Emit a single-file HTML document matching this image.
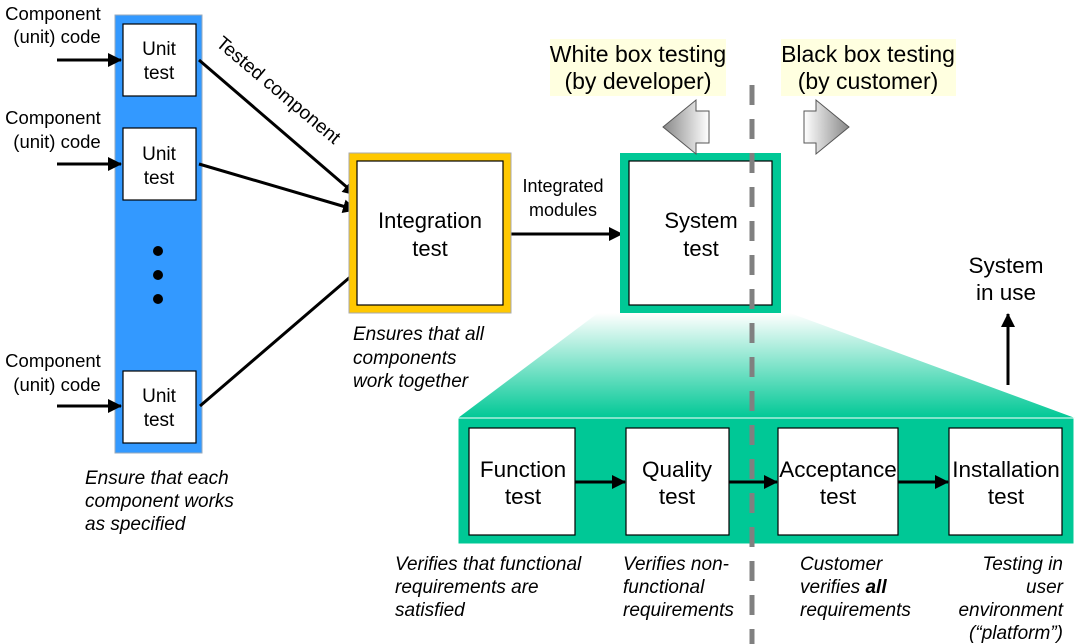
<!DOCTYPE html>
<html><head><style>
body{margin:0;background:#fff;}
svg{display:block;font-family:"Liberation Sans",sans-serif;}
</style></head><body>
<svg width="1080" height="644" viewBox="0 0 1080 644" xmlns="http://www.w3.org/2000/svg">
<defs>
<marker id="ah2" markerWidth="14" markerHeight="14" refX="13" refY="7" orient="auto" markerUnits="userSpaceOnUse" viewBox="0 0 14 14"><path d="M0,0 L14,7 L0,14z" fill="#000"/></marker>
<linearGradient id="tg" x1="0" y1="0" x2="0" y2="1"><stop offset="0" stop-color="#fff"/><stop offset="1" stop-color="#00c896"/></linearGradient>
<linearGradient id="gl" x1="0" y1="0" x2="1" y2="0"><stop offset="0" stop-color="#888"/><stop offset="1" stop-color="#fff"/></linearGradient>
<linearGradient id="gr" x1="0" y1="0" x2="1" y2="0"><stop offset="0" stop-color="#fff"/><stop offset="1" stop-color="#888"/></linearGradient>
</defs>
<rect x="115" y="15" width="87" height="438" fill="#3399ff" stroke="#9ab" stroke-width="1"/>
<g fill="#fff" stroke="#000" stroke-width="1.2">
<rect x="123" y="24" width="73" height="72"/>
<rect x="123" y="128" width="73" height="72"/>
<rect x="123" y="371" width="73" height="72"/>
</g>
<g font-size="19" text-anchor="middle" fill="#000">
<text x="159" y="55">Unit</text><text x="159" y="79">test</text>
<text x="159" y="160">Unit</text><text x="159" y="184">test</text>
<text x="159" y="402">Unit</text><text x="159" y="426">test</text>
</g>
<circle cx="158" cy="251" r="5"/><circle cx="158" cy="275" r="5"/><circle cx="158" cy="299" r="5"/>
<g font-size="18.5" text-anchor="middle">
<text x="53" y="20">Component</text><text x="57" y="43">(unit) code</text>
<text x="53" y="124">Component</text><text x="57" y="148">(unit) code</text>
<text x="53" y="367">Component</text><text x="57" y="391">(unit) code</text>
</g>
<g stroke="#000" stroke-width="3">
<line x1="57" y1="60" x2="121" y2="60" marker-end="url(#ah2)"/>
<line x1="57" y1="164" x2="121" y2="164" marker-end="url(#ah2)"/>
<line x1="57" y1="406" x2="121" y2="406" marker-end="url(#ah2)"/>
<line x1="199" y1="60" x2="356" y2="195" marker-end="url(#ah2)"/>
<line x1="199" y1="164" x2="356" y2="210" marker-end="url(#ah2)"/>
<line x1="200" y1="406" x2="356" y2="272"/>
<line x1="505" y1="234" x2="622" y2="234" marker-end="url(#ah2)"/>
</g>
<text x="0" y="0" font-size="19" transform="translate(215,45) rotate(40)">Tested component</text>
<g font-size="19" font-style="italic" fill="#000">
<text x="85" y="484">Ensure that each</text><text x="85" y="507">component works</text><text x="85" y="530">as specified</text>
<text x="353" y="340">Ensures that all</text><text x="353" y="364">components</text><text x="353" y="387">work together</text>
</g>
<rect x="349" y="153" width="162" height="160" fill="#ffc800" stroke="#aaa"/>
<rect x="357" y="161" width="146" height="144" fill="#fff" stroke="#000" stroke-width="1.2"/>
<text x="430" y="228" font-size="22" text-anchor="middle">Integration</text>
<text x="430" y="256" font-size="22" text-anchor="middle">test</text>
<text x="563" y="192" font-size="18" text-anchor="middle">Integrated</text>
<text x="563" y="216" font-size="18" text-anchor="middle">modules</text>
<rect x="620" y="153" width="161" height="160" fill="#00c896"/>
<rect x="629" y="161" width="143" height="144" fill="#fff" stroke="#000" stroke-width="1.2"/>
<text x="701" y="228" font-size="22" text-anchor="middle">System</text>
<text x="701" y="256" font-size="22" text-anchor="middle">test</text>
<rect x="550" y="39" width="176" height="57" fill="#ffffe0"/>
<rect x="781" y="39" width="175" height="57" fill="#ffffe0"/>
<g font-size="23" text-anchor="middle">
<text x="638" y="62">White box testing</text><text x="638" y="89">(by developer)</text>
<text x="868" y="62">Black box testing</text><text x="868" y="89">(by customer)</text>
</g>
<path d="M663,127 L696,100 L696,111 L709,111 L709,143 L696,143 L696,154 Z" fill="url(#gl)" stroke="#555"/>
<path d="M849,127 L816,100 L816,111 L804,111 L804,143 L816,143 L816,154 Z" fill="url(#gr)" stroke="#555"/>
<path d="M598,313 L790,313 L1075,418 L458,418 Z" fill="url(#tg)"/>
<rect x="458" y="418" width="616" height="126" fill="#00c896" stroke="#fff"/>
<g fill="#fff" stroke="#000" stroke-width="1.2">
<rect x="469" y="428" width="106" height="107"/>
<rect x="626" y="428" width="103" height="107"/>
<rect x="778" y="428" width="120" height="107"/>
<rect x="949" y="428" width="113" height="107"/>
</g>
<g stroke="#000" stroke-width="3">
<line x1="575" y1="482" x2="625" y2="482" marker-end="url(#ah2)"/>
<line x1="729" y1="482" x2="777" y2="482" marker-end="url(#ah2)"/>
<line x1="898" y1="482" x2="948" y2="482" marker-end="url(#ah2)"/>
<line x1="1008" y1="385" x2="1008" y2="314" marker-end="url(#ah2)"/>
</g>
<g font-size="22.5" text-anchor="middle">
<text x="523" y="477">Function</text><text x="523" y="504">test</text>
<text x="677" y="477">Quality</text><text x="677" y="504">test</text>
<text x="838" y="477">Acceptance</text><text x="838" y="504">test</text>
<text x="1006" y="477">Installation</text><text x="1006" y="504">test</text>
<text x="1006" y="273">System</text><text x="1006" y="300">in use</text>
</g>
<line x1="752" y1="85" x2="752" y2="644" stroke="#808080" stroke-width="5" stroke-dasharray="20,14"/>
<g font-size="19" font-style="italic">
<text x="395" y="570">Verifies that functional</text><text x="395" y="593">requirements are</text><text x="395" y="616">satisfied</text>
<text x="623" y="570">Verifies non-</text><text x="623" y="593">functional</text><text x="623" y="616">requirements</text>
<text x="800" y="570">Customer</text><text x="800" y="593">verifies <tspan font-weight="bold">all</tspan></text><text x="800" y="616">requirements</text>
<g text-anchor="end"><text x="1063" y="570">Testing in</text><text x="1063" y="593">user</text><text x="1063" y="616">environment</text><text x="1063" y="639">(“platform”)</text></g>
</g>
</svg>
</body></html>
